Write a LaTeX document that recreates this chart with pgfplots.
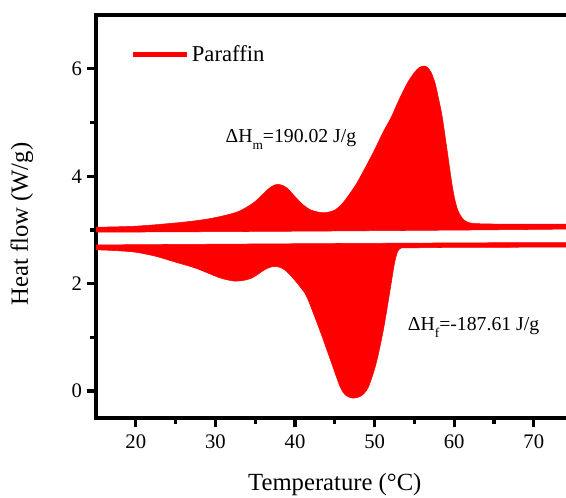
\documentclass[border=0pt]{standalone}
\usepackage{fontspec}
\setmainfont{Liberation Serif}
\usepackage{pgfplots}
\pgfplotsset{compat=1.18}

\begin{document}
\begin{tikzpicture}
\begin{axis}[
  scale only axis,
  width=358.2pt, height=302.25pt,
  xmin=15, xmax=75,
  ymin=-0.5, ymax=7,
  axis line style={line width=2.8pt},
  tick align=outside, tick pos=left,
  xtick={20,30,40,50,60,70}, minor x tick num=1,
  ytick={0,2,4,6}, minor y tick num=1,
  major tick length=7pt, minor tick length=4.5pt,
  tick style={line width=2.5pt, black},
  tick label style={font=\fontsize{15.5}{18}\selectfont},
  xticklabel style={yshift=-2pt},
  label style={font=\fontsize{18.5}{22}\selectfont},
  xlabel={Temperature (°C)},
  ylabel={Heat flow (W/g)},
  xlabel style={at={(axis description cs:0.5,0)}, anchor=base, yshift=-54pt},
  ylabel style={at={(axis description cs:-0.155,0.481)}, anchor=center},
  legend style={draw=none, fill=none, at={(axis cs:18.8,6.26)}, anchor=west,
    font=\fontsize{17}{20}\selectfont},
  legend image code/.code={\draw[red, line width=4pt] (0pt,0pt) -- (40pt,0pt);},
  /pgf/number format/assume math mode=true,
]
% heating curve (upper), filled down to the baseline
\addplot[smooth, fill=red, draw=red, line width=0.4pt, forget plot] coordinates {
 (14,3.045) (15,3.05) (20,3.07) (25,3.13) (28,3.18) (30,3.23) (32,3.30)
 (33,3.35) (34,3.43) (35,3.53) (36,3.67) (36.8,3.78) (37.5,3.84) (38.2,3.84)
 (39,3.78) (40,3.62) (41,3.47) (42,3.37) (43,3.33) (43.8,3.32) (45,3.37)
 (46,3.50) (47,3.70) (47.8,3.88) (48.8,4.15) (50,4.49) (51,4.80) (52.1,5.10)
 (53,5.40) (54.1,5.73) (55,5.93) (55.6,6.02) (56.1,6.05) (56.6,6.03)
 (57.1,5.93) (57.6,5.73) (58.1,5.40) (58.5,5.10) (59.1,4.49) (59.7,3.87)
 (60.1,3.55) (60.5,3.35) (61,3.22) (61.6,3.15) (62.5,3.12) (65,3.11)
 (70,3.11) (75,3.11) (76,3.11) (76,3.02) (14,2.96) (14,3.045)
};
% cooling curve (lower), filled up to the baseline
\addplot[smooth, fill=red, draw=red, line width=0.4pt, forget plot] coordinates {
 (14,2.72) (76,2.765) (76,2.68) (75,2.68) (60,2.675) (54,2.665) (53.3,2.66)
 (52.9,2.60) (52.6,2.45) (52.4,2.30) (51.8,1.75) (51.1,1.14) (50.2,0.52)
 (49.2,0.07) (48.3,-0.09) (47.3,-0.13) (46.4,-0.08) (45.7,0.07) (44.6,0.52)
 (43.1,1.14) (41.5,1.75) (40.7,1.93) (40,2.06) (39,2.22) (38.2,2.30)
 (37.3,2.32) (36.3,2.27) (35.5,2.19) (34.5,2.10) (33.5,2.06) (32.3,2.05)
 (31,2.09) (30,2.14) (27.5,2.29) (25,2.40) (22.5,2.51) (20,2.585)
 (17.5,2.615) (15,2.63) (14,2.635) (14,2.72)
};
\addlegendimage{red, line width=4pt}
\addlegendentry{Paraffin}
\node[anchor=base west, inner sep=0pt, font=\fontsize{14.8}{17}\selectfont]
  at (axis cs:31.25,4.62) {ΔH\raisebox{-5pt}{\fontsize{10}{11}\selectfont m}=190.02 J/g};
\node[anchor=base west, inner sep=0pt, font=\fontsize{14.8}{17}\selectfont]
  at (axis cs:54.15,1.12) {ΔH\raisebox{-5pt}{\fontsize{10}{11}\selectfont f}=-187.61 J/g};
\end{axis}
\pgfresetboundingbox
\path (current axis.south west) ++(-72pt,-59.25pt) rectangle ++(424.5pt,372.75pt);
\end{tikzpicture}
\end{document}
